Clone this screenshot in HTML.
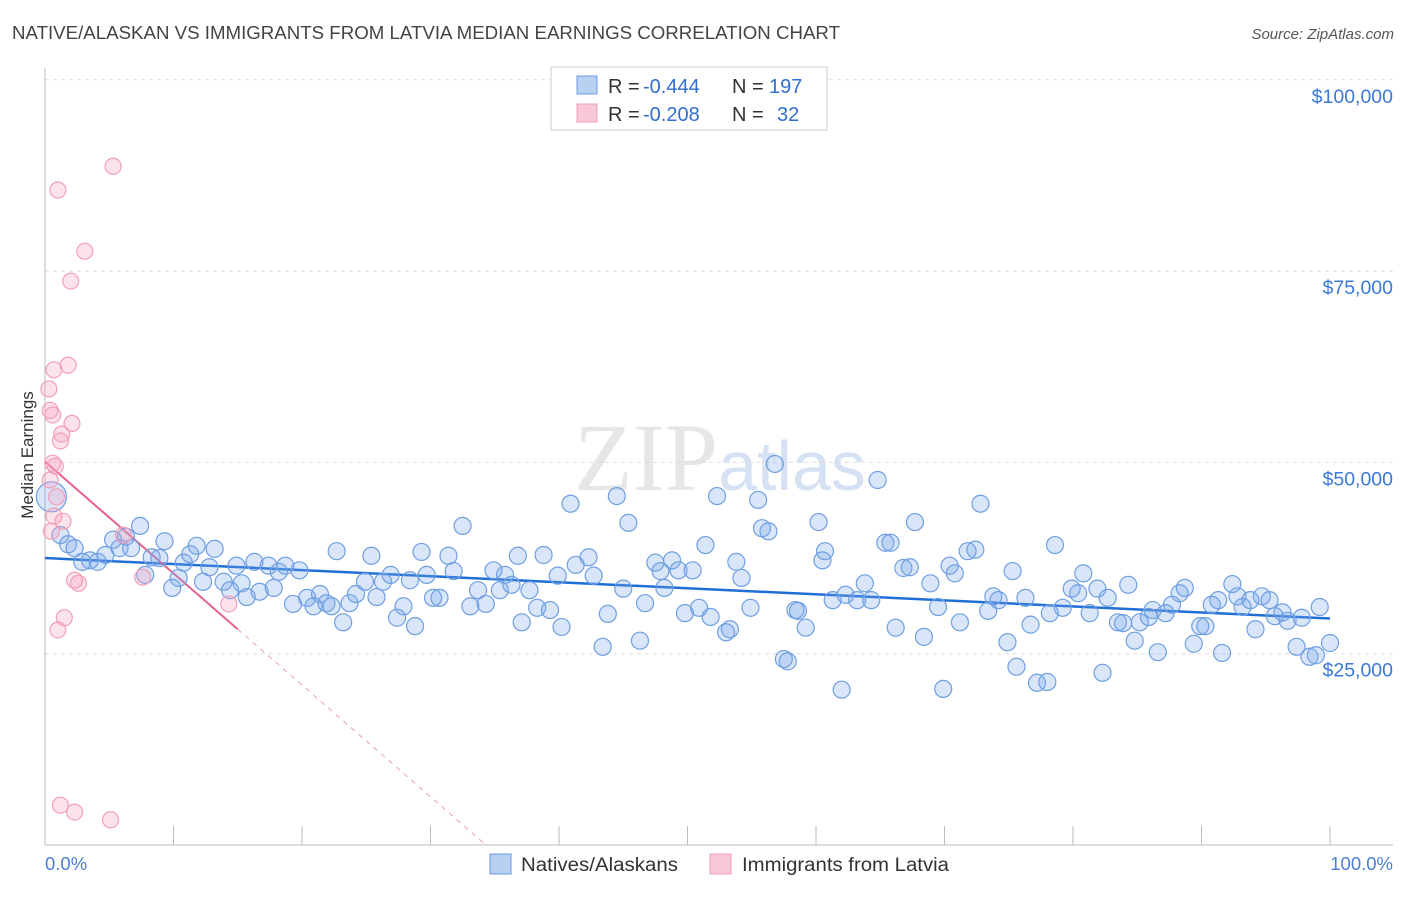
<!DOCTYPE html>
<html><head><meta charset="utf-8"><style>
body{margin:0;background:#fff;font-family:"Liberation Sans",sans-serif}
svg text{font-family:"Liberation Sans",sans-serif}
</style></head><body>
<svg id="chart" width="1406" height="892" xmlns="http://www.w3.org/2000/svg">
<text x="12" y="39" font-size="18" fill="#444" textLength="828" lengthAdjust="spacingAndGlyphs">NATIVE/ALASKAN VS IMMIGRANTS FROM LATVIA MEDIAN EARNINGS CORRELATION CHART</text>
<text x="1394" y="39" font-size="15" fill="#555" font-style="italic" text-anchor="end">Source: ZipAtlas.com</text>
<text x="720" y="490" font-size="96" fill="#e6e6e6" text-anchor="middle" font-family="Liberation Serif"><tspan font-family="Liberation Serif">ZIP</tspan><tspan font-family="Liberation Sans" fill="#d4e2f4" font-size="70">atlas</tspan></text>
<g id="grid"></g><g id="axes"></g><g id="trends"></g><g id="pts"></g>
<text transform="translate(33,455) rotate(-90)" font-size="17" fill="#333" text-anchor="middle">Median Earnings</text>
<text x="45" y="870" font-size="18.5" fill="#4a7fd4">0.0%</text>
<text x="1393" y="870" font-size="18.5" fill="#4a7fd4" text-anchor="end">100.0%</text>
<g>
<rect x="551" y="67" width="276" height="63" fill="#fff" stroke="#ccc"/>
<rect x="577" y="76" width="20" height="18" fill="#b8d0f2" stroke="#6a9be0"/>
<rect x="577" y="104" width="20" height="18" fill="#f8c8d6" stroke="#f0a0b8"/>
<text x="608" y="93" font-size="20" fill="#333">R =</text>
<text x="643" y="93" font-size="20" fill="#2f6fd0">-0.444</text>
<text x="732" y="93" font-size="20" fill="#333">N =</text>
<text x="769" y="93" font-size="20" fill="#2f6fd0">197</text>
<text x="608" y="121" font-size="20" fill="#333">R =</text>
<text x="643" y="121" font-size="20" fill="#2f6fd0">-0.208</text>
<text x="732" y="121" font-size="20" fill="#333">N =</text>
<text x="777" y="121" font-size="20" fill="#2f6fd0">32</text>
</g>
<g>
<rect x="490" y="854" width="21" height="20" fill="#b8d0f2" stroke="#6a9be0"/>
<text x="521" y="871" font-size="19" fill="#333" textLength="157" lengthAdjust="spacingAndGlyphs">Natives/Alaskans</text>
<rect x="710" y="854" width="21" height="20" fill="#f8c8d6" stroke="#f0a0b8"/>
<text x="742" y="871" font-size="19" fill="#333" textLength="207" lengthAdjust="spacingAndGlyphs">Immigrants from Latvia</text>
</g>
</svg>
<script>
const yTicks=[25,50,75,100];
const yTickLabels=["$25,000","$50,000","$75,000","$100,000"];
const xTicks=[0,10,20,30,40,50,60,70,80,90,100];
const blueX=[0.5,1.2,1.8,2.3,2.9,3.5,4.1,4.7,5.3,5.8,6.3,6.7,7.4,7.8,8.3,8.9,9.3,9.9,10.4,10.8,11.3,11.8,12.3,12.8,13.2,13.9,14.4,14.9,15.3,15.7,16.3,16.7,17.4,17.8,18.2,18.7,19.3,19.8,20.4,20.9,21.4,21.9,22.3,22.7,23.2,23.7,24.2,24.9,25.4,25.8,26.3,26.9,27.4,27.9,28.4,28.8,29.3,29.7,30.2,30.7,31.4,31.8,32.5,33.1,33.7,34.3,34.9,35.4,35.8,36.3,36.8,37.1,37.7,38.3,38.8,39.3,39.9,40.2,40.9,41.3,42.3,42.7,43.8,43.4,44.5,45.0,45.4,46.3,46.7,47.5,47.9,48.2,48.8,49.3,49.8,50.4,50.9,51.4,51.8,52.3,53.0,53.3,53.8,54.2,54.9,55.5,55.8,56.3,56.8,57.5,57.8,58.4,58.6,59.2,60.2,60.5,60.7,61.3,62.0,62.3,63.2,63.8,64.3,64.8,65.4,65.8,66.2,66.8,67.3,67.7,68.4,68.9,69.5,69.9,70.4,70.8,71.2,71.8,72.4,72.8,73.4,73.8,74.2,74.9,75.3,75.6,76.3,76.7,77.2,78.0,78.2,78.6,79.2,79.9,80.4,80.8,81.3,81.9,82.3,82.7,83.5,83.9,84.3,84.8,85.2,85.9,86.2,86.6,87.2,87.7,88.3,88.7,89.4,89.9,90.3,90.8,91.3,91.6,92.4,92.8,93.2,93.8,94.2,94.7,95.3,95.7,96.3,96.7,97.4,97.8,98.4,98.9,99.2,100];
const blueY=[45.5,40.5,39.3,38.8,37.0,37.2,37.0,37.9,39.9,38.8,40.3,38.8,41.7,35.3,37.6,37.5,39.7,33.6,34.9,36.9,38.0,39.1,34.4,36.3,38.7,34.4,33.3,36.5,34.2,32.4,37.0,33.1,36.5,33.6,35.7,36.5,31.5,35.9,32.3,31.2,32.8,31.6,31.2,38.4,29.1,31.6,32.8,34.4,37.8,32.4,34.4,35.3,29.7,31.2,34.6,28.6,38.3,35.3,32.3,32.3,37.8,35.8,41.7,31.2,33.3,31.5,35.9,33.3,35.3,34.0,37.8,29.1,33.3,31.0,37.9,30.7,35.2,28.5,44.6,36.6,37.6,35.2,30.2,25.9,45.6,33.5,42.1,26.7,31.6,36.9,35.8,33.6,37.2,35.9,30.3,35.9,31.0,39.2,29.8,45.6,27.8,28.2,37.0,34.9,31.0,45.1,41.4,41.0,49.8,24.3,24.0,30.7,30.6,28.4,42.2,37.2,38.4,32.0,20.3,32.7,32.0,34.2,32.0,47.7,39.5,39.5,28.4,36.2,36.3,42.2,27.2,34.2,31.1,20.4,36.5,35.5,29.1,38.4,38.6,44.6,30.6,32.5,32.0,26.5,35.8,23.3,32.3,28.8,21.2,21.3,30.3,39.2,31.0,33.5,32.9,35.5,30.3,33.5,22.5,32.3,29.1,29.0,34.0,26.7,29.1,29.8,30.7,25.2,30.3,31.4,32.9,33.6,26.3,28.6,28.6,31.4,32.0,25.1,34.1,32.5,31.1,32.0,28.2,32.5,32.0,29.9,30.4,29.3,25.9,29.7,24.6,24.8,31.1,26.4];
const pinkX=[1.0,5.3,3.1,2.0,0.7,1.8,0.3,0.4,0.6,2.1,1.3,1.2,0.6,0.8,0.4,0.9,0.7,1.4,0.5,6.1,2.3,2.6,7.6,1.5,1.0,14.3,1.2,2.3,5.1];
const pinkY=[85.6,88.7,77.6,73.7,62.1,62.7,59.6,56.8,56.2,55.1,53.7,52.8,49.9,49.5,47.7,45.5,43.0,42.3,41.0,40.5,34.6,34.2,35.0,29.7,28.1,31.5,5.2,4.3,3.3];
const blueTrend=[37.5,29.6];
const pinkTrend=[50.1,-1.46];
const pinkSolidEnd=15;

const NS="http://www.w3.org/2000/svg";
const X=v=>45+v*12.85, Y=v=>845-v*7.652;
function mk(tag,attrs,parent){const e=document.createElementNS(NS,tag);for(const k in attrs)e.setAttribute(k,attrs[k]);document.getElementById(parent).appendChild(e);return e;}
yTicks.forEach((t,i)=>{
  const g=mk('line',{x1:45,x2:1393,y1:Y(t),y2:Y(t),stroke:'#ddd','stroke-dasharray':'4,4'},'grid');
  
  
  const l=mk('text',{x:1393,y:Y(t)+23,'font-size':19.5,fill:'#3b78d8','text-anchor':'end'},'grid');
  l.textContent=yTickLabels[i];
  
  
});
const ya=mk('line',{x1:45,x2:45,y1:68,y2:845,stroke:'#bbb'},'axes');


const xa=mk('line',{x1:45,x2:1393,y1:845,y2:845,stroke:'#bbb'},'axes');


xTicks.forEach(t=>{
  const k=mk('line',{x1:X(t),x2:X(t),y1:826,y2:845,stroke:'#bbb'},'axes');
  
  
});
const bt=mk('line',{x1:X(0),y1:Y(blueTrend[0]),x2:X(100),y2:Y(blueTrend[1]),stroke:'#1f6fd6','stroke-width':2.5},'trends');


const pv=x=>pinkTrend[0]+pinkTrend[1]*x;
const x0=-pinkTrend[0]/pinkTrend[1];
const pd=mk('line',{x1:X(pinkSolidEnd),y1:Y(pv(pinkSolidEnd)),x2:X(x0),y2:Y(0),stroke:'#e8a0b8','stroke-width':1,'stroke-dasharray':'5,5'},'trends');


const ps=mk('line',{x1:X(0),y1:Y(pv(0)),x2:X(pinkSolidEnd),y2:Y(pv(pinkSolidEnd)),stroke:'#e8608a','stroke-width':2},'trends');


blueX.forEach((x,i)=>{
  const c=mk('circle',{cx:X(x),cy:Y(blueY[i]),r:i===0?15:8.5,fill:'rgba(120,165,235,0.28)',stroke:'#6f9fe2','stroke-width':1.2},'pts');
  
  
});
pinkX.forEach((x,i)=>{
  const c=mk('circle',{cx:X(x),cy:Y(pinkY[i]),r:8,fill:'rgba(245,160,190,0.3)',stroke:'#f0a0b8','stroke-width':1.2},'pts');
  
  
});
</script>
</body></html>
